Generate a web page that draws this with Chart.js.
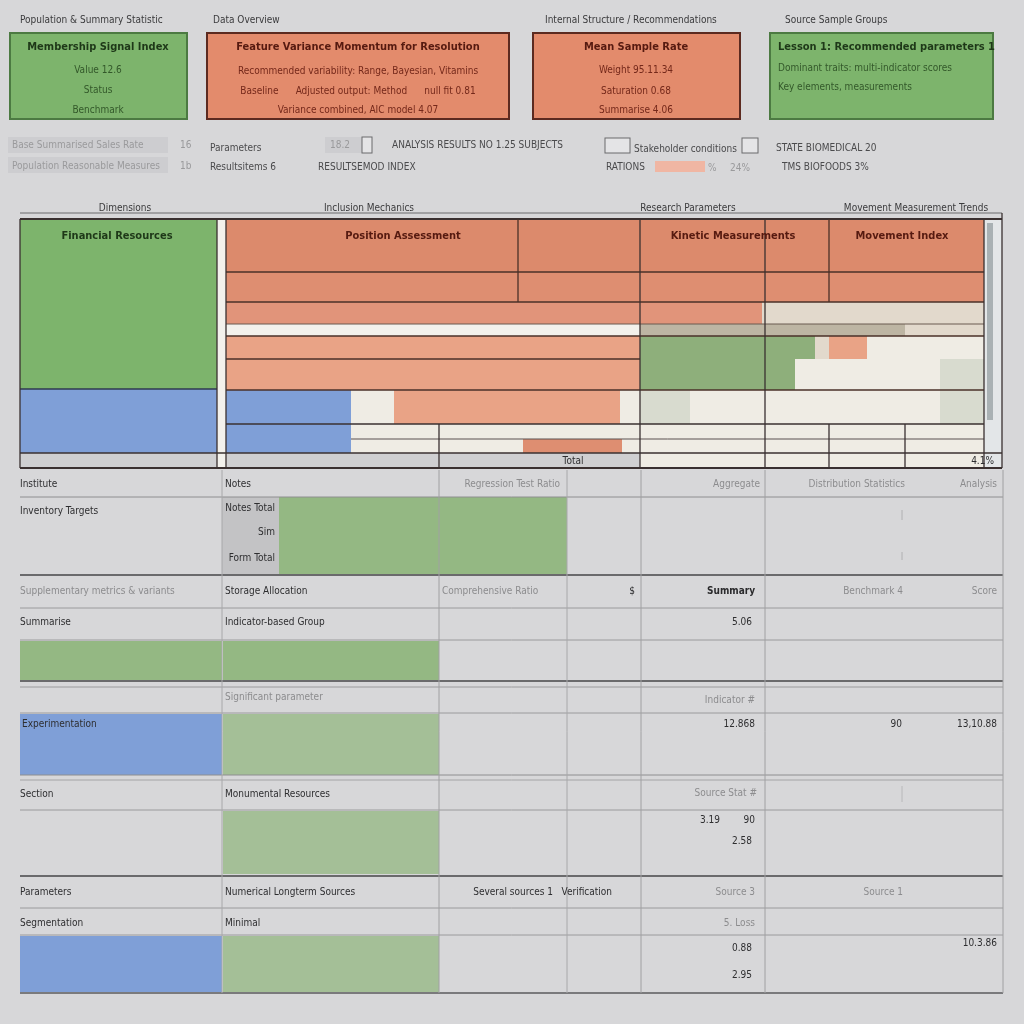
<!DOCTYPE html>
<html>
<head>
<meta charset="utf-8">
<script src="https://cdn.jsdelivr.net/npm/chart.js@4.4.0/dist/chart.umd.min.js"></script>
<style>
  html, body { margin: 0; padding: 0; background: #d7d7d9; }
  #sheet { display: block; }
</style>
</head>
<body>
<canvas id="sheet" width="1024" height="1024"></canvas>
<script>
// Sheet layout in sheet units (0..1024 on both axes, mapped by the chart scales)

const COLORS = {
  bg: "#d7d7d9",
  green: "#7db46c", greenEdge: "#4c7a42",
  orange: "#e38b6c", orangeEdge: "#5c2a20",
  rust: "#dc8a6c", rust2: "#de8e71", rust3: "#e1947a",
  salmon: "#e9a386", blue: "#7f9fd7",
  cream: "#efece4", white: "#f3f1ec", beige: "#e2d9cc",
  taupe: "#bdb5a3", sage: "#d8dbcf", tGreen: "#8eaf7b",
  gray: "#cfcfd1", grayDark: "#c3c3c5",
  lGreen: "#94b883", pGreen: "#a4bf97", pink: "#f0b6a3",
  strip: "#e3e6e8", thumb: "#a9b1b4", field: "#cdcdd0"
};

// filled cells: [x0, y0, x1, y1, colour]
const summaryBoxes = [
  [10, 33, 187, 119, "green"],
  [207, 33, 509, 119, "orange"],
  [533, 33, 740, 119, "orange"],
  [770, 33, 993, 119, "green"]
];
const boxEdges = ["greenEdge", "orangeEdge", "orangeEdge", "greenEdge"];

const controlCells = [
  [8, 137, 168, 153, "field"],
  [8, 157, 168, 173, "field"],
  [325, 137, 362, 153, "field"],
  [655, 161, 705, 172, "pink"]
];
const checkBoxes = [
  [362, 137, 372, 153],
  [605, 138, 630, 153],
  [742, 138, 758, 153]
];

const mainCells = [
  [20, 219, 217, 389, "green"], [20, 389, 217, 453, "blue"], [20, 453, 217, 468, "gray"],
  [217, 219, 226, 468, "white"],
  [226, 219, 984, 272, "rust"],
  [226, 272, 984, 302, "rust2"],
  [226, 302, 762, 324, "rust3"], [762, 302, 984, 324, "beige"],
  [226, 324, 640, 336, "white"], [640, 324, 905, 336, "taupe"], [905, 324, 984, 336, "beige"],
  [226, 336, 640, 359, "salmon"], [640, 336, 815, 359, "tGreen"], [815, 336, 829, 359, "beige"],
  [829, 336, 867, 359, "salmon"], [867, 336, 984, 359, "cream"],
  [226, 359, 640, 390, "salmon"], [640, 359, 795, 390, "tGreen"], [795, 359, 940, 390, "cream"],
  [940, 359, 984, 390, "sage"],
  [226, 390, 351, 424, "blue"], [351, 390, 394, 424, "cream"], [394, 390, 620, 424, "salmon"],
  [620, 390, 640, 424, "cream"], [640, 390, 690, 424, "sage"], [690, 390, 940, 424, "cream"],
  [940, 390, 984, 424, "sage"],
  [226, 424, 351, 439, "blue"], [351, 424, 984, 439, "cream"],
  [226, 439, 351, 453, "blue"], [351, 439, 523, 453, "cream"], [523, 439, 622, 453, "rust2"],
  [622, 439, 984, 453, "cream"],
  [226, 453, 640, 468, "gray"], [640, 453, 984, 468, "cream"],
  [984, 219, 1002, 468, "strip"], [987, 223, 993, 420, "thumb"]
];

const detailCells = [
  [222, 497, 279, 575, "grayDark"], [279, 497, 567, 575, "lGreen"],
  [20, 641, 222, 680, "lGreen"], [223, 641, 439, 680, "lGreen"],
  [20, 714, 222, 775, "blue"], [223, 714, 439, 775, "pGreen"],
  [223, 811, 439, 874, "pGreen"],
  [20, 936, 222, 992, "blue"], [223, 936, 439, 992, "pGreen"]
];

// rules: [x0, y0, x1, y1, width, colour]
const mainRules = [
  [20, 213, 1002, 213, 1, "#6a6a6c"],
  [20, 219, 1002, 219, 2, "#3a3030"],
  [226, 272, 984, 272, 1.3, "#4a3028"], [226, 302, 984, 302, 1.3, "#4a3028"],
  [226, 324, 984, 324, 1, "#6a5a50"], [226, 336, 984, 336, 1.3, "#4a3028"],
  [226, 359, 640, 359, 1.3, "#4a3028"], [20, 389, 217, 389, 1.3, "#2f3a50"],
  [226, 390, 984, 390, 1.3, "#4a3028"], [226, 424, 984, 424, 1.3, "#3a3030"],
  [351, 439, 984, 439, 1, "#5a5050"], [20, 453, 1002, 453, 1.3, "#3a3030"],
  [20, 468, 1002, 468, 2, "#3a3030"],
  [20, 219, 20, 468, 1.3, "#3a3030"], [217, 219, 217, 468, 1.3, "#3a3030"],
  [226, 219, 226, 468, 1.3, "#3a3030"], [518, 219, 518, 302, 1.3, "#4a3028"],
  [640, 219, 640, 468, 1.3, "#3a3030"], [765, 219, 765, 468, 1.3, "#3a3030"],
  [829, 219, 829, 302, 1.3, "#4a3028"], [829, 424, 829, 468, 1.3, "#3a3030"],
  [905, 424, 905, 468, 1.3, "#3a3030"], [439, 424, 439, 468, 1.3, "#3a3030"],
  [984, 219, 984, 468, 1.3, "#3a3030"], [1002, 213, 1002, 468, 1.3, "#3a3030"]
];

const detailRules = [
  [20, 497, 1003, 497, 1, "#8e8e90"], [20, 575, 1003, 575, 2, "#6a6a6c"],
  [20, 608, 1003, 608, 1, "#9a9a9c"], [20, 640, 1003, 640, 1, "#9a9a9c"],
  [20, 681, 1003, 681, 2, "#6a6a6c"], [20, 687, 1003, 687, 1, "#9a9a9c"],
  [20, 713, 1003, 713, 1, "#9a9a9c"], [20, 775, 1003, 775, 1, "#8e8e90"],
  [20, 780, 1003, 780, 1, "#a4a4a6"], [20, 810, 1003, 810, 1, "#9a9a9c"],
  [20, 876, 1003, 876, 2, "#6a6a6c"], [20, 908, 1003, 908, 1, "#9a9a9c"],
  [20, 935, 1003, 935, 1, "#9a9a9c"], [20, 993, 1003, 993, 2, "#7a7a7c"],
  [222, 470, 222, 993, 1, "#a8a8aa"], [439, 470, 439, 993, 1, "#a0a0a2"],
  [567, 470, 567, 993, 1, "#a8a8aa"], [641, 470, 641, 993, 1, "#a0a0a2"],
  [765, 470, 765, 993, 1, "#a0a0a2"], [1003, 470, 1003, 993, 1, "#a0a0a2"],
  [902, 510, 902, 520, 1, "#b0b0b2"], [902, 552, 902, 560, 1, "#b0b0b2"],
  [902, 786, 902, 802, 1, "#b8b8ba"]
];

// labels: [x, y, text, align, style]
const headerLabels = [
  [20, 20, "Population & Summary Statistic", "left", "cap"],
  [213, 20, "Data Overview", "left", "cap"],
  [545, 20, "Internal Structure / Recommendations", "left", "cap"],
  [785, 20, "Source Sample Groups", "left", "cap"],
  [98, 47, "Membership Signal Index", "center", "gTitle"],
  [98, 70, "Value 12.6", "center", "gLine"],
  [98, 90, "Status", "center", "gLine"],
  [98, 110, "Benchmark", "center", "gLine"],
  [358, 47, "Feature Variance Momentum for Resolution", "center", "oTitle"],
  [358, 71, "Recommended variability: Range, Bayesian, Vitamins", "center", "oLine"],
  [358, 91, "Baseline      Adjusted output: Method      null fit 0.81", "center", "oLine"],
  [358, 110, "Variance combined, AIC model 4.07", "center", "oLine"],
  [636, 47, "Mean Sample Rate", "center", "oTitle"],
  [636, 70, "Weight 95.11.34", "center", "oLine"],
  [636, 91, "Saturation 0.68", "center", "oLine"],
  [636, 110, "Summarise 4.06", "center", "oLine"],
  [778, 47, "Lesson 1: Recommended parameters 1", "left", "gTitle"],
  [778, 68, "Dominant traits: multi-indicator scores", "left", "gLine"],
  [778, 87, "Key elements, measurements", "left", "gLine"]
];

const controlLabels = [
  [12, 145, "Base Summarised Sales Rate", "left", "uiLight"],
  [180, 145, "16", "left", "uiLight"],
  [12, 166, "Population Reasonable Measures", "left", "uiLight"],
  [180, 166, "1b", "left", "uiLight"],
  [210, 148, "Parameters", "left", "ui"],
  [210, 167, "Resultsitems 6", "left", "ui"],
  [330, 145, "18.2", "left", "uiLight"],
  [392, 145, "ANALYSIS RESULTS NO 1.25 SUBJECTS", "left", "ui"],
  [318, 167, "RESULTSEMOD INDEX", "left", "ui"],
  [634, 149, "Stakeholder conditions", "left", "ui"],
  [776, 148, "STATE BIOMEDICAL 20", "left", "ui"],
  [606, 167, "RATIONS", "left", "ui"],
  [708, 168, "%", "left", "uiLight"],
  [730, 168, "24%", "left", "uiLight"],
  [782, 167, "TMS BIOFOODS 3%", "left", "ui"]
];

const mainLabels = [
  [125, 208, "Dimensions", "center", "cap"],
  [369, 208, "Inclusion Mechanics", "center", "cap"],
  [688, 208, "Research Parameters", "center", "cap"],
  [916, 208, "Movement Measurement Trends", "center", "cap"],
  [117, 236, "Financial Resources", "center", "gTitle"],
  [403, 236, "Position Assessment", "center", "oTitle"],
  [733, 236, "Kinetic Measurements", "center", "oTitle"],
  [902, 236, "Movement Index", "center", "oTitle"],
  [573, 461, "Total", "center", "cell"],
  [994, 461, "4.1%", "right", "cell"]
];

const detailLabels = [
  [20, 484, "Institute", "left", "cell"],
  [225, 484, "Notes", "left", "cell"],
  [560, 484, "Regression Test Ratio", "right", "cellL"],
  [760, 484, "Aggregate", "right", "cellL"],
  [905, 484, "Distribution Statistics", "right", "cellL"],
  [997, 484, "Analysis", "right", "cellL"],
  [20, 511, "Inventory Targets", "left", "cell"],
  [275, 508, "Notes Total", "right", "cell"],
  [275, 532, "Sim", "right", "cell"],
  [275, 558, "Form Total", "right", "cell"],
  [20, 591, "Supplementary metrics & variants", "left", "cellL"],
  [225, 591, "Storage Allocation", "left", "cell"],
  [442, 591, "Comprehensive Ratio", "left", "cellL"],
  [635, 591, "$", "right", "cell"],
  [755, 591, "Summary", "right", "cellB"],
  [903, 591, "Benchmark 4", "right", "cellL"],
  [997, 591, "Score", "right", "cellL"],
  [20, 622, "Summarise", "left", "cell"],
  [225, 622, "Indicator-based Group", "left", "cell"],
  [752, 622, "5.06", "right", "cell"],
  [225, 697, "Significant parameter", "left", "cellL"],
  [755, 700, "Indicator #", "right", "cellL"],
  [22, 724, "Experimentation", "left", "cell"],
  [755, 724, "12.868", "right", "cell"],
  [902, 724, "90", "right", "cell"],
  [997, 724, "13,10.88", "right", "cell"],
  [20, 794, "Section", "left", "cell"],
  [225, 794, "Monumental Resources", "left", "cell"],
  [757, 793, "Source Stat #", "right", "cellL"],
  [720, 820, "3.19", "right", "cell"],
  [755, 820, "90", "right", "cell"],
  [752, 841, "2.58", "right", "cell"],
  [20, 892, "Parameters", "left", "cell"],
  [225, 892, "Numerical Longterm Sources", "left", "cell"],
  [612, 892, "Several sources 1   Verification", "right", "cell"],
  [755, 892, "Source 3", "right", "cellL"],
  [903, 892, "Source 1", "right", "cellL"],
  [20, 923, "Segmentation", "left", "cell"],
  [225, 923, "Minimal", "left", "cell"],
  [755, 923, "5. Loss", "right", "cellL"],
  [752, 948, "0.88", "right", "cell"],
  [752, 975, "2.95", "right", "cell"],
  [997, 943, "10.3.86", "right", "cell"]
];

const FONT = '"Liberation Sans Narrow", "DejaVu Sans Condensed", "Liberation Sans", sans-serif';
const TEXT_STYLES = {
  cap:    { size: 10, weight: "normal", color: "#3a3a3c" },
  gTitle: { size: 11, weight: "bold",   color: "#1e3818" },
  gLine:  { size: 10, weight: "normal", color: "#33582a" },
  oTitle: { size: 11, weight: "bold",   color: "#561a10" },
  oLine:  { size: 10, weight: "normal", color: "#74281a" },
  ui:     { size: 10, weight: "normal", color: "#4a4a4c" },
  uiLight:{ size: 10, weight: "normal", color: "#9a9a9c" },
  cell:   { size: 10, weight: "normal", color: "#2e2e30" },
  cellB:  { size: 10, weight: "bold",   color: "#2a2a2c" },
  cellL:  { size: 10, weight: "normal", color: "#8c8c8e" }
};

const sheetPlugin = {
  id: "sheet",
  beforeDraw(chart) {
    const { ctx, width, height } = chart;
    ctx.save();
    ctx.fillStyle = COLORS.bg;
    ctx.fillRect(0, 0, width, height);
    ctx.restore();
  },
  afterDraw(chart) {
    const { ctx, scales: { x, y } } = chart;
    const px = v => x.getPixelForValue(v);
    const py = v => y.getPixelForValue(v);

    const fill = (cells) => cells.forEach(([x0, y0, x1, y1, c]) => {
      ctx.fillStyle = COLORS[c];
      ctx.fillRect(px(x0), py(y0), px(x1) - px(x0), py(y1) - py(y0));
    });
    const rules = (list) => list.forEach(([x0, y0, x1, y1, w, c]) => {
      ctx.strokeStyle = c;
      ctx.lineWidth = w;
      ctx.beginPath();
      ctx.moveTo(px(x0), py(y0));
      ctx.lineTo(px(x1), py(y1));
      ctx.stroke();
    });
    const labels = (list) => list.forEach(([lx, ly, t, align, s]) => {
      const st = TEXT_STYLES[s];
      ctx.font = `${st.weight} ${st.size}px ${FONT}`;
      ctx.fillStyle = st.color;
      ctx.textAlign = align;
      ctx.textBaseline = "middle";
      ctx.fillText(t, px(lx), py(ly));
    });

    ctx.save();
    // summary boxes
    fill(summaryBoxes);
    summaryBoxes.forEach(([x0, y0, x1, y1], i) => {
      ctx.strokeStyle = COLORS[boxEdges[i]];
      ctx.lineWidth = 2;
      ctx.strokeRect(px(x0), py(y0), px(x1) - px(x0), py(y1) - py(y0));
    });
    // controls
    fill(controlCells);
    checkBoxes.forEach(([x0, y0, x1, y1]) => {
      ctx.fillStyle = "#e4e4e6";
      ctx.fillRect(px(x0), py(y0), px(x1) - px(x0), py(y1) - py(y0));
      ctx.strokeStyle = "#6a6a6c";
      ctx.lineWidth = 1;
      ctx.strokeRect(px(x0), py(y0), px(x1) - px(x0), py(y1) - py(y0));
    });
    // main matrix and detail table
    fill(mainCells);
    fill(detailCells);
    rules(mainRules);
    rules(detailRules);
    labels(headerLabels);
    labels(controlLabels);
    labels(mainLabels);
    labels(detailLabels);
    ctx.restore();
  }
};

new Chart(document.getElementById("sheet"), {
  type: "scatter",
  data: { datasets: [] },
  options: {
    responsive: false,
    animation: false,
    devicePixelRatio: 1,
    layout: { padding: 0 },
    plugins: { legend: { display: false }, tooltip: { enabled: false } },
    scales: {
      x: { type: "linear", min: 0, max: 1024, display: false },
      y: { type: "linear", min: 0, max: 1024, reverse: true, display: false }
    }
  },
  plugins: [sheetPlugin]
});
</script>
</body>
</html>
